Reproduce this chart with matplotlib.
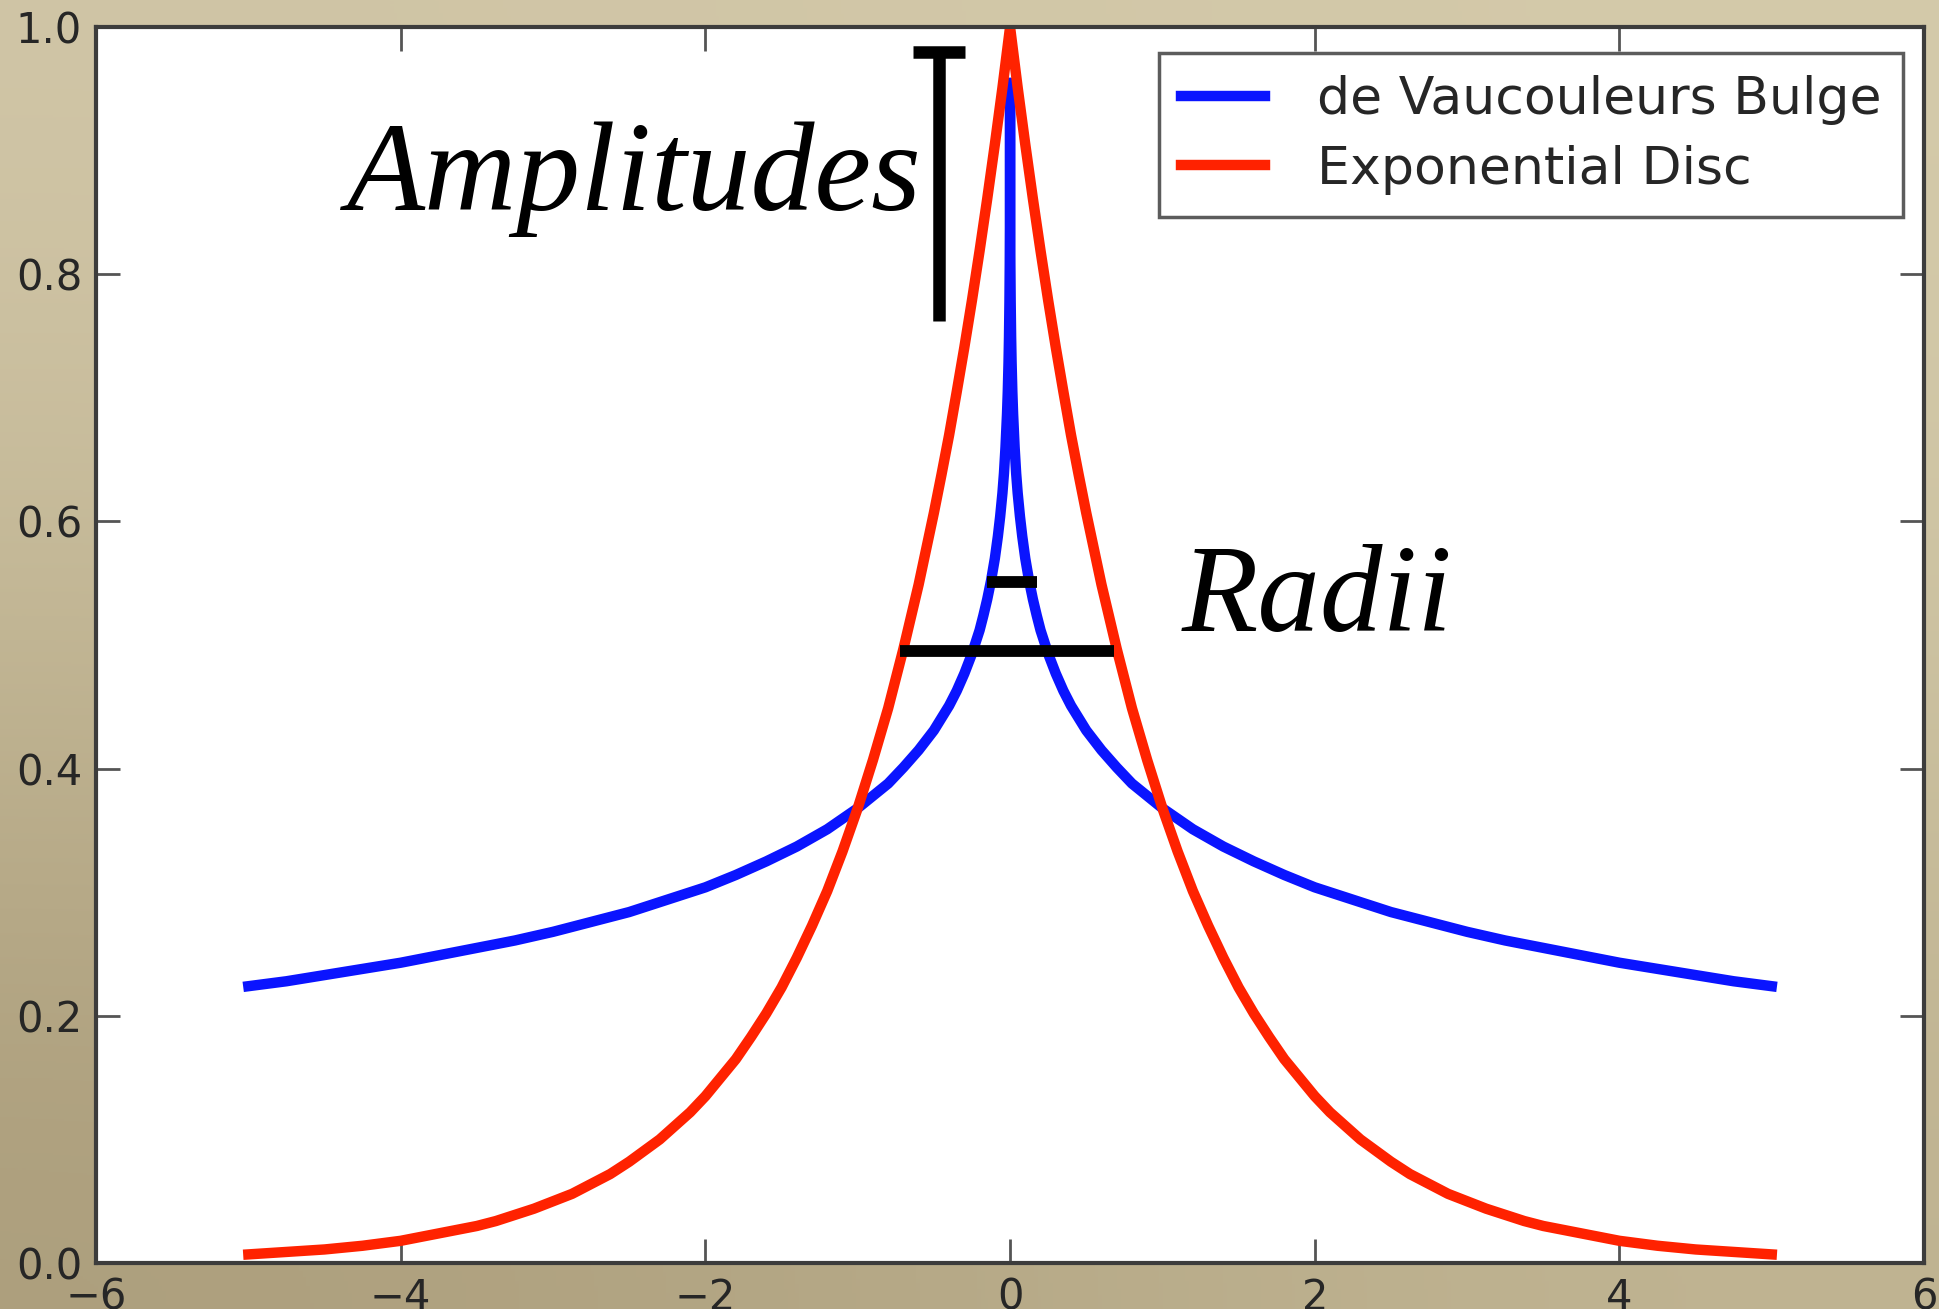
import numpy as np
import matplotlib
matplotlib.use('Agg')
import matplotlib.pyplot as plt

# surface brightness profiles, one side (radius >= 0), mirrored when drawn
r_disc = [0.0, 0.05, 0.1, 0.15, 0.2, 0.25, 0.3, 0.35, 0.4, 0.45, 0.5, 0.6,
          0.7, 0.8, 0.9, 1.0, 1.1, 1.2, 1.3, 1.4, 1.5, 1.6, 1.7, 1.8, 1.9,
          2.0, 2.1, 2.2, 2.3, 2.4, 2.5, 2.625, 2.75, 2.875, 3.0, 3.125,
          3.25, 3.375, 3.5, 3.75, 4.0, 4.25, 4.5, 4.75, 5.0]
i_disc = [1.000, 0.951, 0.905, 0.861, 0.819, 0.779, 0.741, 0.705, 0.670,
          0.638, 0.607, 0.549, 0.497, 0.449, 0.407, 0.368, 0.333, 0.301,
          0.273, 0.247, 0.223, 0.202, 0.183, 0.165, 0.150, 0.135, 0.122,
          0.111, 0.100, 0.091, 0.082, 0.072, 0.064, 0.056, 0.050, 0.044,
          0.039, 0.034, 0.030, 0.024, 0.018, 0.014, 0.011, 0.009, 0.007]

r_bulge = [0.0, 0.00001, 0.0001, 0.0003, 0.001, 0.002, 0.004, 0.007, 0.01,
           0.015, 0.02, 0.03, 0.04, 0.05, 0.065, 0.08, 0.1, 0.125, 0.15,
           0.175, 0.2, 0.25, 0.3, 0.35, 0.4, 0.45, 0.5, 0.6, 0.7, 0.8, 0.9,
           1.0, 1.2, 1.4, 1.6, 1.8, 2.0, 2.25, 2.5, 2.75, 3.0, 3.25, 3.5,
           3.75, 4.0, 4.25, 4.5, 4.75, 5.0]
i_bulge = [0.955, 0.945, 0.905, 0.877, 0.837, 0.809, 0.778, 0.749, 0.729,
           0.705, 0.687, 0.660, 0.639, 0.623, 0.604, 0.588, 0.570, 0.552,
           0.537, 0.524, 0.512, 0.493, 0.477, 0.463, 0.451, 0.441, 0.431,
           0.415, 0.401, 0.388, 0.378, 0.368, 0.351, 0.337, 0.325, 0.314,
           0.304, 0.294, 0.284, 0.276, 0.268, 0.261, 0.255, 0.249, 0.243,
           0.238, 0.233, 0.228, 0.224]

labels = ['de Vaucouleurs Bulge', 'Exponential Disc']

# marker bars: (x, y0, y1) vertical, (x0, x1, y) horizontal
amp_bar = (-0.466, 0.762, 0.980)
amp_cap = (-0.637, -0.295, 0.980)
radius_bulge = (-0.15, 0.18, 0.551)
radius_disc = (-0.72, 0.68, 0.495)


def both_sides(r, v):
    r = np.asarray(r)
    v = np.asarray(v)
    x = np.concatenate([-r[::-1], r[1:]])
    y = np.concatenate([v[::-1], v[1:]])
    return x, y


fig = plt.figure(figsize=(19.4, 13.09), dpi=100)

# paper-ish backdrop
bg = fig.add_axes([0, 0, 1, 1], zorder=-10)
grad = np.zeros((3, 2, 3))
grad[0, 0] = [208, 197, 166]
grad[0, 1] = [212, 202, 170]
grad[1, 0] = [193, 181, 147]
grad[1, 1] = [205, 195, 162]
grad[2, 0] = [172, 158, 124]
grad[2, 1] = [192, 180, 146]
bg.imshow(grad / 255.0, aspect='auto', interpolation='bicubic',
          extent=[0, 1, 0, 1])
bg.axis('off')

ax = fig.add_axes([0.0495, 0.0351, 0.9423, 0.9442])
ax.set_facecolor('white')

xb, yb = both_sides(r_bulge, i_bulge)
xd, yd = both_sides(r_disc, i_disc)
ax.plot(xb, yb, color='#0a14ff', lw=7.5, label=labels[0])
ax.plot(xd, yd, color='#ff2200', lw=7.5, label=labels[1])

ax.plot([amp_bar[0], amp_bar[0]], [amp_bar[1], amp_bar[2]], color='black',
        lw=9, solid_capstyle='butt')
ax.plot([amp_cap[0], amp_cap[1]], [amp_cap[2], amp_cap[2]], color='black',
        lw=9, solid_capstyle='butt')
for x0, x1, y in (radius_bulge, radius_disc):
    ax.plot([x0, x1], [y, y], color='black', lw=8.5, solid_capstyle='butt')

ax.text(-0.58, 0.852, 'Amplitudes', ha='right', va='baseline', fontsize=92,
        style='italic', family='Liberation Serif')
ax.text(1.126, 0.511, 'Radii', ha='left', va='baseline', fontsize=90,
        style='italic', family='Liberation Serif')

ax.set_xlim(-6, 6)
ax.set_ylim(0, 1)
ax.set_xticks([-6, -4, -2, 0, 2, 4, 6])
ax.set_yticks([0.0, 0.2, 0.4, 0.6, 0.8, 1.0])
ax.set_yticklabels(['0.0', '0.2', '0.4', '0.6', '0.8', '1.0'])
ax.tick_params(direction='in', length=17, width=2, color='#555555',
               top=True, right=True, labelsize=30, labelcolor='#262626',
               pad=10)
for s in ax.spines.values():
    s.set_color('#3c3c3c')
    s.set_linewidth(3)

leg = ax.legend(loc='upper right', bbox_to_anchor=(0.9885, 0.979),
                borderaxespad=0, fontsize=37.5, handlelength=1.6,
                handletextpad=1.0, labelspacing=0.38, fancybox=False,
                borderpad=0.42)
leg.get_frame().set_edgecolor('#333333')
leg.get_frame().set_linewidth(2.5)
for t in leg.get_texts():
    t.set_color('#262626')

fig.savefig('out.png', dpi=100)
